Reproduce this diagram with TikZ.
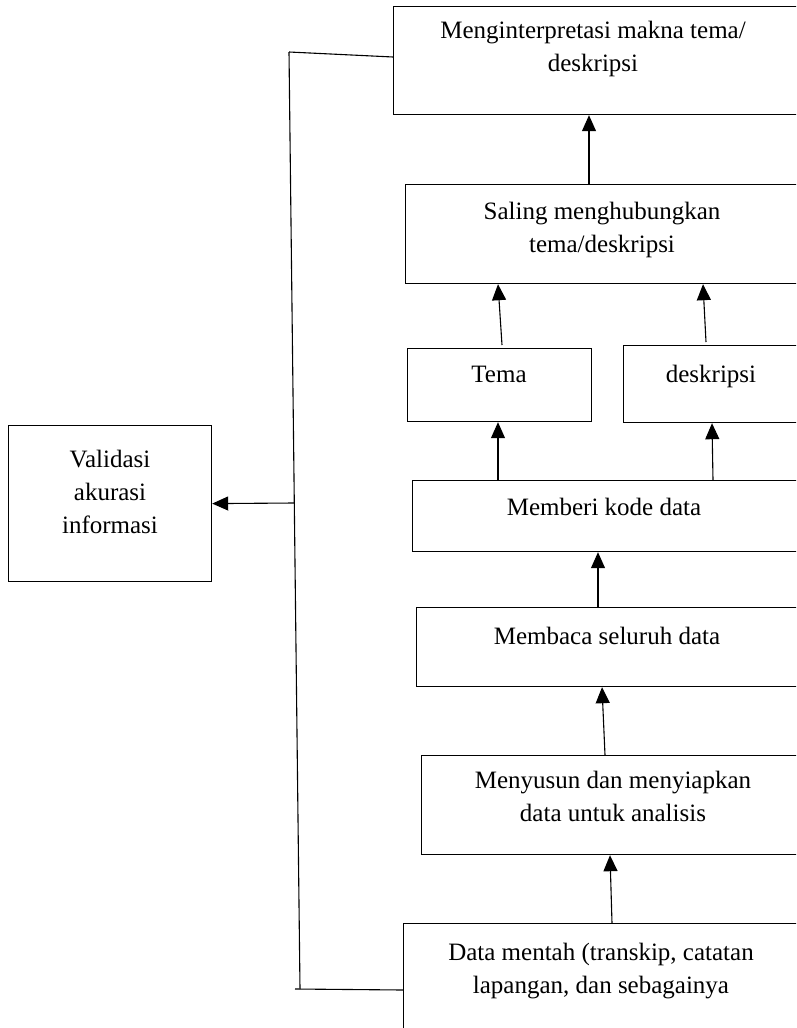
\documentclass[tikz,border=0pt]{standalone}
\usepackage{fontspec}
\setmainfont{Liberation Serif}
\usetikzlibrary{arrows.meta,calc,positioning}

\tikzset{
  kotak/.style={draw, rectangle, line width=1.2pt, inner sep=0pt, anchor=north west},
  tulisan/.style={align=center, anchor=north, inner sep=0pt, font=\fontsize{25}{33}\selectfont},
  panah/.style={-{Triangle[length=16pt,width=14pt]}, line width=1.1pt},
  garis/.style={line width=1.1pt}
}

\begin{document}
\begin{tikzpicture}[x=1pt,y=-1pt]
\useasboundingbox (0,0) rectangle (796,1028);
\clip (0,0) rectangle (796,1028);

% kotak-kotak
\node[kotak, minimum width=420pt, minimum height=108pt] (interp) at (393,6) {};
\node[kotak, minimum width=410pt, minimum height=99pt] (saling) at (405,184) {};
\node[kotak, minimum width=184pt, minimum height=73pt] (tema) at (407,348) {};
\node[kotak, minimum width=190pt, minimum height=77pt] (deskripsi) at (623,345) {};
\node[kotak, minimum width=400pt, minimum height=71pt] (memberi) at (412,480) {};
\node[kotak, minimum width=400pt, minimum height=79pt] (membaca) at (416,607) {};
\node[kotak, minimum width=400pt, minimum height=99pt] (menyusun) at (421,755) {};
\node[kotak, minimum width=410pt, minimum height=130pt] (mentah) at (403,923) {};
\node[kotak, minimum width=203pt, minimum height=156pt] (validasi) at (8,425) {};

% teks
\node[tulisan] (interp-t) at (593,21) {Menginterpretasi makna tema/\\deskripsi};
\node[tulisan] (saling-t) at (602,202) {Saling menghubungkan\\tema/deskripsi};
\node[tulisan] (tema-t) at (499,366) {Tema};
\node[tulisan] (deskripsi-t) at (711,365) {deskripsi};
\node[tulisan] (memberi-t) at (604,498) {Memberi kode data};
\node[tulisan] (membaca-t) at (607,627) {Membaca seluruh data};
\node[tulisan] (menyusun-t) at (613,771) {Menyusun dan menyiapkan\\data untuk analisis};
\node[tulisan] (mentah-t) at (601,943) {Data mentah (transkip, catatan\\lapangan, dan sebagainya};
\node[tulisan] (validasi-t) at (110,450) {Validasi\\akurasi\\informasi};

% panah naik
\draw[panah] ($(saling.north west)+(184,0)$) -- ($(interp.south west)+(196,0)$);
\draw[panah] ($(tema.north west)+(95,-3)$) -- ($(saling.south west)+(93,0)$);
\draw[panah] ($(deskripsi.north west)+(83,-3)$) -- ($(saling.south west)+(298,0)$);
\draw[panah] ($(memberi.north west)+(86,0)$) -- ($(tema.south west)+(91,0)$);
\draw[panah] ($(memberi.north west)+(301,0)$) -- ($(deskripsi.south west)+(89,0)$);
\draw[panah] ($(membaca.north west)+(182,0)$) -- ($(memberi.south west)+(186,0)$);
\draw[panah] ($(menyusun.north west)+(184,0)$) -- ($(membaca.south west)+(186,0)$);
\draw[panah] ($(mentah.north west)+(209,0)$) -- ($(menyusun.south west)+(189,0)$);

% garis validasi
\coordinate (atas) at (289,52);
\coordinate (bawah) at (300,989);
\coordinate (cabang) at (294,503);
\draw[garis] (atas) -- (bawah);
\draw[garis] (atas) -- ($(interp.north west)+(0,51)$);
\draw[garis] ([xshift=-5pt]bawah) -- ($(mentah.north west)+(0,67)$);
\draw[panah] (cabang) -- (validasi.east);
\end{tikzpicture}
\end{document}
